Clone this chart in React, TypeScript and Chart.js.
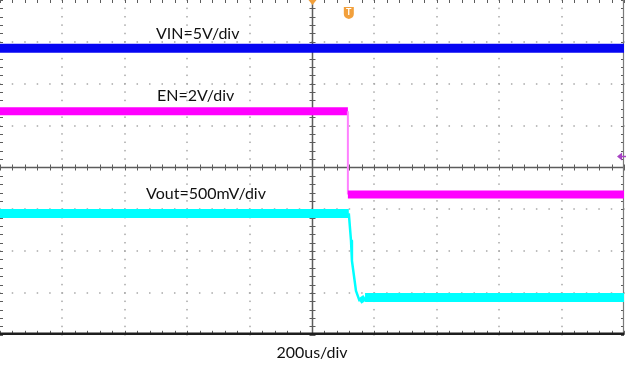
import React, { useEffect, useRef } from 'react';
import { Chart, registerables } from 'chart.js';

Chart.register(...registerables);

// Time axis in microseconds (200us/div, 10 divisions), vertical in divisions (8 divisions)
const vinTime = [-1000, 1000];
const vinDiv = [2.85, 2.85];

const enTime = [-1000, 115, 115, 1000];
const enDiv = [1.34, 1.34, -0.65, -0.65];

const voutTime = [-1000, 118, 125, 128, 141, 153, 170, 1000];
const voutDiv = [-1.1, -1.1, -1.75, -2.23, -2.95, -3.2, -3.11, -3.11];

const channelLabels = ['VIN=5V/div', 'EN=2V/div', 'Vout=500mV/div'];
const labelTime = [-500, -497, -532];
const labelDiv = [3.19, 1.7, -0.63];
const timebaseLabel = '200us/div';
const triggerTime = 118;
const triggerLevelDiv = 0.26;

const FONT = 'Lato, "Open Sans", sans-serif';

const toPoints = (xs: number[], ys: number[]) => xs.map((x, i) => ({ x, y: ys[i] }));

const scopePlugin = {
  id: 'scopeGrid',
  beforeDatasetsDraw(chart: any) {
    const { ctx, chartArea: a, scales } = chart;
    const xs = scales.x;
    const ys = scales.y;
    ctx.save();
    // dotted graticule
    ctx.fillStyle = '#a8a8a8';
    for (let xv = -800; xv <= 800; xv += 200) {
      if (xv === 0) continue;
      const px = Math.round(xs.getPixelForValue(xv));
      for (let k = 0; k <= 40; k++) {
        const py = ys.getPixelForValue(-4 + k * 0.2);
        ctx.fillRect(px - 0.75, py - 0.75, 1.5, 1.5);
      }
    }
    for (let yv = -3; yv <= 3; yv += 1) {
      if (yv === 0) continue;
      const py = Math.round(ys.getPixelForValue(yv));
      for (let k = 0; k <= 50; k++) {
        const px = xs.getPixelForValue(-1000 + k * 40);
        ctx.fillRect(px - 0.75, py - 0.75, 1.5, 1.5);
      }
    }
    // center crosshair
    ctx.strokeStyle = '#5c5c5c';
    ctx.lineWidth = 1.5;
    const cx = Math.round(xs.getPixelForValue(0)) + 0.5;
    const cy = Math.round(ys.getPixelForValue(0)) + 0.5;
    ctx.beginPath();
    ctx.moveTo(a.left, cy);
    ctx.lineTo(a.right, cy);
    ctx.moveTo(cx, a.top);
    ctx.lineTo(cx, a.bottom);
    ctx.stroke();
    ctx.lineWidth = 1;
    ctx.beginPath();
    for (let k = 0; k <= 50; k++) {
      const px = Math.round(xs.getPixelForValue(-1000 + k * 40)) + 0.5;
      ctx.moveTo(px, cy - 3);
      ctx.lineTo(px, cy + 3);
      ctx.moveTo(px, a.top);
      ctx.lineTo(px, a.top + 3);
      ctx.moveTo(px, a.bottom - 4);
      ctx.lineTo(px, a.bottom);
    }
    for (let k = 0; k <= 40; k++) {
      const py = Math.round(ys.getPixelForValue(-4 + k * 0.2)) + 0.5;
      ctx.moveTo(cx - 3, py);
      ctx.lineTo(cx + 3, py);
      ctx.moveTo(a.left, py);
      ctx.lineTo(a.left + 3, py);
      ctx.moveTo(a.right - 3, py);
      ctx.lineTo(a.right, py);
    }
    ctx.stroke();
    // right edge
    ctx.strokeStyle = '#7a7a7a';
    ctx.lineWidth = 1.2;
    ctx.beginPath();
    ctx.moveTo(a.right - 0.5, a.top);
    ctx.lineTo(a.right - 0.5, a.bottom);
    ctx.stroke();
    // bottom edge
    ctx.strokeStyle = '#1e1e1e';
    ctx.lineWidth = 2.5;
    ctx.beginPath();
    ctx.moveTo(a.left, a.bottom - 1);
    ctx.lineTo(a.right, a.bottom - 1);
    ctx.stroke();
    ctx.restore();
  },
  afterDatasetsDraw(chart: any) {
    const { ctx, chartArea: a, scales } = chart;
    const xs = scales.x;
    const ys = scales.y;
    ctx.save();
    // channel labels
    ctx.fillStyle = '#111';
    ctx.font = `16px ${FONT}`;
    ctx.textAlign = 'left';
    ctx.textBaseline = 'middle';
    channelLabels.forEach((t, i) => {
      ctx.fillText(t, xs.getPixelForValue(labelTime[i]), ys.getPixelForValue(labelDiv[i]));
    });
    // trigger position marker (top)
    const cx = Math.round(xs.getPixelForValue(0)) + 0.5;
    ctx.fillStyle = '#f2a03c';
    ctx.beginPath();
    ctx.moveTo(cx - 4, a.top);
    ctx.lineTo(cx + 4, a.top);
    ctx.lineTo(cx, a.top + 5);
    ctx.closePath();
    ctx.fill();
    // T badge
    const tx = xs.getPixelForValue(triggerTime);
    const top = a.top + 7;
    ctx.beginPath();
    ctx.moveTo(tx - 5, top);
    ctx.lineTo(tx + 5, top);
    ctx.lineTo(tx + 5, top + 7);
    ctx.quadraticCurveTo(tx + 5, top + 11, tx, top + 12);
    ctx.quadraticCurveTo(tx - 5, top + 11, tx - 5, top + 7);
    ctx.closePath();
    ctx.fill();
    ctx.fillStyle = '#fff';
    ctx.font = `bold 9px ${FONT}`;
    ctx.textAlign = 'center';
    ctx.fillText('T', tx, top + 5.5);
    // trigger level arrow (right)
    const ly = ys.getPixelForValue(triggerLevelDiv);
    ctx.fillStyle = '#a844c4';
    ctx.strokeStyle = '#a844c4';
    ctx.beginPath();
    ctx.moveTo(a.right - 7, ly);
    ctx.lineTo(a.right - 2, ly - 4);
    ctx.lineTo(a.right - 2, ly + 4);
    ctx.closePath();
    ctx.fill();
    ctx.lineWidth = 1.5;
    ctx.beginPath();
    ctx.moveTo(a.right - 3, ly);
    ctx.lineTo(a.right + 2, ly);
    ctx.stroke();
    ctx.restore();
  },
};

export default function App() {
  const ref = useRef<HTMLCanvasElement | null>(null);

  useEffect(() => {
    if (!ref.current) return;
    const enLast = enTime.length - 1;
    const voutDipIndex = voutTime.length - 3;
    const chart = new Chart(ref.current, {
      type: 'line',
      data: {
        datasets: [
          {
            label: 'VIN',
            data: toPoints(vinTime, vinDiv),
            borderColor: '#0606f2',
            borderWidth: 9,
            pointRadius: 0,
          },
          {
            label: 'EN',
            data: toPoints(enTime, enDiv),
            borderColor: '#ff00ff',
            borderWidth: 8,
            pointRadius: 0,
            segment: {
              borderWidth: (c: any) => (c.p0DataIndex === 0 || c.p1DataIndex === enLast ? 8 : 2),
              borderColor: (c: any) => (c.p0DataIndex === 0 || c.p1DataIndex === enLast ? '#ff00ff' : '#ff80ff'),
            },
          },
          {
            label: 'Vout',
            data: toPoints(voutTime, voutDiv),
            borderColor: '#00ffff',
            borderWidth: 9,
            pointRadius: 0,
            borderJoinStyle: 'round',
            segment: {
              borderWidth: (c: any) =>
                c.p0DataIndex === 0 ? 9 : c.p0DataIndex >= voutDiv.length - 2 ? 9 : c.p0DataIndex === voutDipIndex ? 6 : 2.5,
            },
          },
        ],
      },
      options: {
        responsive: false,
        animation: false,
        layout: { padding: { left: 0, right: 2, top: 0, bottom: 0 } },
        plugins: { legend: { display: false }, tooltip: { enabled: false } },
        scales: {
          x: {
            type: 'linear',
            min: -1000,
            max: 1000,
            ticks: { display: false },
            grid: { display: false, drawTicks: false },
            border: { display: false },
            title: {
              display: true,
              text: timebaseLabel,
              color: '#111',
              font: { family: FONT, size: 16 },
              padding: { top: 8, bottom: 3 },
            },
          },
          y: {
            type: 'linear',
            min: -4,
            max: 4,
            display: false,
          },
        },
      },
      plugins: [scopePlugin],
    });
    return () => chart.destroy();
  }, []);

  return (
    <div style={{ position: 'absolute', left: 0, top: 0, width: 626, height: 365, background: '#fff' }}>
      <canvas ref={ref} width={626} height={365} style={{ display: 'block' }} />
    </div>
  );
}
